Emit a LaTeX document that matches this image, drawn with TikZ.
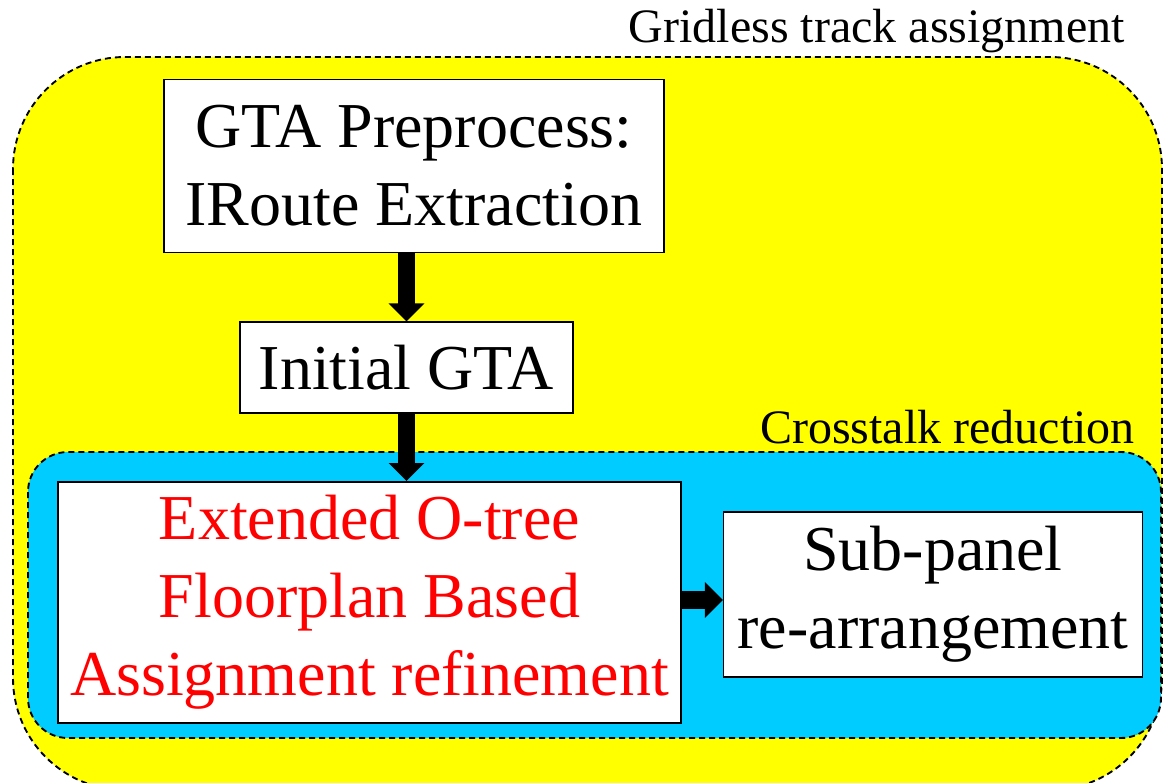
\documentclass[tikz,border=0pt]{standalone}
\usepackage{fontspec}
\setmainfont{Liberation Serif}
\usetikzlibrary{arrows.meta}
\definecolor{gtayellow}{HTML}{FFFF00}
\definecolor{xtalkblue}{HTML}{00CCFF}
\begin{document}
\begin{tikzpicture}[
    x=0.75pt, y=-0.75pt,
    region/.style={draw, dash pattern=on 4.5pt off 3pt, line width=1.4pt},
    stage/.style={rectangle, draw, fill=white, line width=1.2pt, inner sep=0pt, align=center,
        font=\fontsize{48}{58.5}\selectfont},
    caption/.style={inner sep=0pt, font=\fontsize{36}{40}\selectfont},
    flow/.style={line width=13pt, -{Triangle[width=26pt, length=13.5pt]}}
]
    \useasboundingbox (0,0) rectangle (1164,782);
    \clip (0,0) rectangle (1164,782);

    % Regions
    \draw[region, fill=gtayellow, rounded corners=84pt] (13,57) rectangle (1162,790);
    \draw[region, fill=xtalkblue, rounded corners=30pt] (28,452) rectangle (1161,738);

    % Region labels
    \node[caption, anchor=base east] (gtalabel) at (1125,42) {Gridless track assignment};
    \node[caption, anchor=base east] (xtalklabel) at (1135,443) {Crosstalk reduction};

    % Stages
    \node[stage, minimum width=375pt, minimum height=130pt] (prep) at (414,166)
        {GTA Preprocess:\\IRoute Extraction};
    \node[stage, minimum width=250pt, minimum height=68pt] (init) at (406.5,367.5)
        {Initial GTA};
    \node[stage, minimum width=467pt, minimum height=181pt, text=red] (otree) at (369.5,602.5)
        {Extended O-tree\\Floorplan Based\\Assignment refinement};
    \node[stage, minimum width=314pt, minimum height=124pt] (subpanel) at (933,594.5)
        {Sub-panel\\re-arrangement};

    % Connections
    \draw[flow] (prep.south -| init.north) -- (init.north);
    \draw[flow] (init.south) -- (init.south |- otree.north);
    \draw[flow] (otree.east |- 0,600) -- (subpanel.west |- 0,600);
\end{tikzpicture}
\end{document}
